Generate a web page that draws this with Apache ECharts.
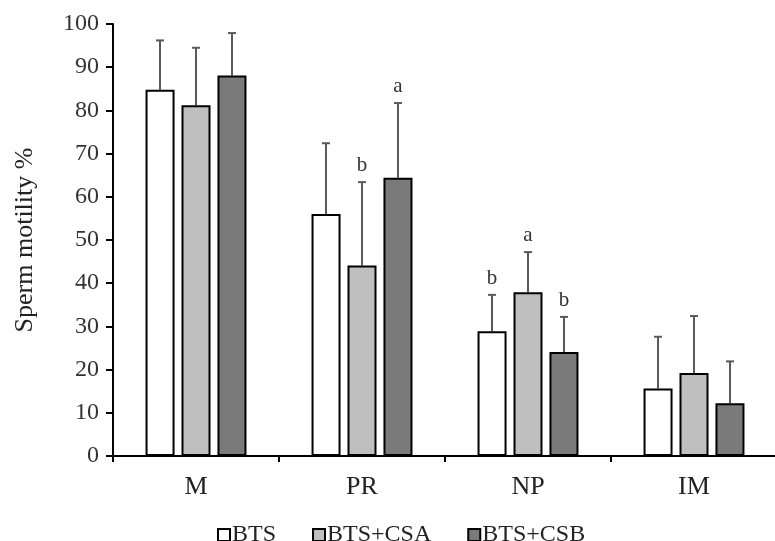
<!DOCTYPE html>
<html>
<head>
<meta charset="utf-8">
<script src="https://cdn.jsdelivr.net/npm/echarts@6/dist/echarts.min.js"></script>
<style>
  html, body { margin: 0; padding: 0; background: #fff; }
  #chart { width: 775px; height: 541px; }
</style>
</head>
<body>
<div id="chart"></div>
<script>
const categories = ['M', 'PR', 'NP', 'IM'];
const seriesNames = ['BTS', 'BTS+CSA', 'BTS+CSB'];
const btsMean = [84.8, 56.0, 28.9, 15.6];
const csaMean = [81.2, 44.1, 37.9, 19.2];
const csbMean = [88.1, 64.4, 24.1, 12.2];
const btsErr = [96.2, 72.4, 37.3, 27.6];
const csaErr = [94.5, 63.4, 47.2, 32.4];
const csbErr = [97.9, 81.7, 32.2, 21.9];
const btsLetters = ['', '', 'b', ''];
const csaLetters = ['', 'b', 'a', ''];
const csbLetters = ['', 'a', 'b', ''];
const yTicks = [0, 10, 20, 30, 40, 50, 60, 70, 80, 90, 100];

const means = [btsMean, csaMean, csbMean];
const errTops = [btsErr, csaErr, csbErr];
const letters = [btsLetters, csaLetters, csbLetters];
const fills = ['#ffffff', '#bfbfbf', '#7a7a7a'];
const serif = '"Liberation Serif", "DejaVu Serif", serif';

const BAR_W = 29;
const STEP = 36;

let chartElem = document.getElementById('chart');
let chart = echarts.init(chartElem);

let barSeries = means.map(function (vals, i) {
    return {
        name: seriesNames[i],
        type: 'bar',
        data: vals,
        barWidth: BAR_W,
        barGap: '24%',
        itemStyle: {
            color: fills[i],
            borderColor: '#000',
            borderWidth: 2
        },
        z: 2
    };
});

// error bars (upper only) + significance letters
let errSeries = errTops.map(function (tops, i) {
    return {
        type: 'custom',
        name: 'err' + i,
        data: tops.map(function (t, k) { return [k, means[i][k], t]; }),
        z: 1,
        silent: true,
        renderItem: function (params, api) {
            let base = api.coord([api.value(0), api.value(1)]);
            let top = api.coord([api.value(0), api.value(2)]);
            let x = base[0] + (i - 1) * STEP;
            let children = [
                { type: 'line', shape: { x1: x, y1: base[1], x2: x, y2: top[1] },
                  style: { stroke: '#5a5a5a', lineWidth: 2 } },
                { type: 'line', shape: { x1: x - 4, y1: top[1], x2: x + 4, y2: top[1] },
                  style: { stroke: '#5a5a5a', lineWidth: 2 } }
            ];
            let letter = letters[i][params.dataIndex];
            if (letter) {
                children.push({
                    type: 'text',
                    style: {
                        text: letter, x: x, y: top[1] - 6,
                        align: 'center', verticalAlign: 'bottom',
                        font: '21px ' + serif, fill: '#333'
                    }
                });
            }
            return { type: 'group', children: children };
        }
    };
});

chart.setOption({
    animation: false,
    grid: { left: 113, right: -2, top: 24, bottom: 85, outerBoundsMode: 'none' },
    legend: {
        data: seriesNames.map(function (n, i) {
            return { name: n, itemStyle: { color: fills[i], borderColor: '#000', borderWidth: 2 } };
        }),
        left: 212,
        top: 518,
        icon: 'rect',
        itemWidth: 12,
        itemHeight: 12,
        itemGap: 36,
        textStyle: { fontFamily: serif, fontSize: 24, color: '#222', padding: [0, 0, 0, -3] }
    },
    xAxis: {
        type: 'category',
        data: categories,
        axisLine: { lineStyle: { color: '#000', width: 2 } },
        axisTick: { show: true, length: 6, lineStyle: { color: '#000', width: 2 } },
        axisLabel: { fontFamily: serif, fontSize: 26, color: '#222', margin: 18 }
    },
    yAxis: {
        type: 'value',
        min: 0,
        max: 100,
        interval: 10,
        name: 'Sperm motility %',
        nameLocation: 'middle',
        nameGap: 75,
        nameTextStyle: { fontFamily: serif, fontSize: 26, color: '#222' },
        splitLine: { show: false },
        axisLine: { show: true, lineStyle: { color: '#000', width: 2 } },
        axisTick: { show: true, length: 7, lineStyle: { color: '#000', width: 2 } },
        axisLabel: {
            fontFamily: serif, fontSize: 24, color: '#333', margin: 14,
            formatter: function (v) { return yTicks.indexOf(v) >= 0 ? String(v) : ''; }
        }
    },
    series: barSeries.concat(errSeries)
});

window.addEventListener('resize', function () {
    setTimeout(() => { chart.resize(); }, 500);
});
</script>
</body>
</html>
